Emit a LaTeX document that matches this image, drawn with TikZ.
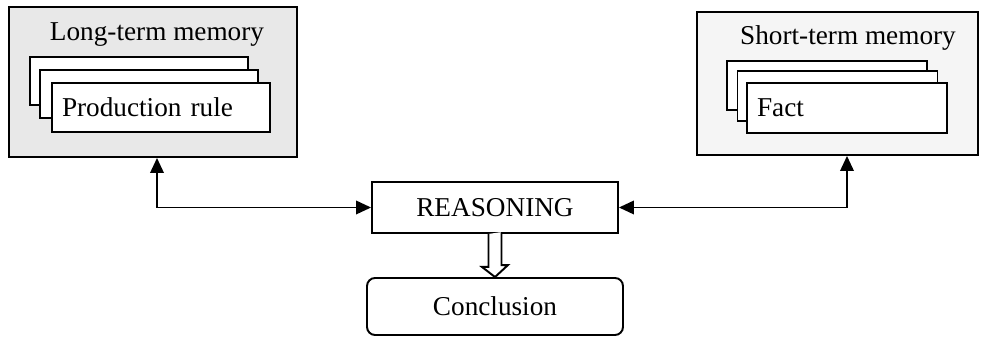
\documentclass[tikz,border=0pt]{standalone}
\usepackage{fontspec}
\setmainfont{Liberation Serif}
\usetikzlibrary{arrows.meta}

\tikzset{
  memory/.style={draw, line width=1.1pt, fill=gray!#1},
  card/.style={draw, line width=1.1pt, fill=white, inner sep=0pt},
  label/.style={font=\fontsize{15.5}{18}\selectfont},
  link/.style={line width=1.1pt, {Triangle[length=0.3cm,width=0.27cm]}-{Triangle[length=0.3cm,width=0.27cm]}}
}

\begin{document}
\begin{tikzpicture}[x=0.02cm, y=-0.02cm]
  \useasboundingbox (0,0) rectangle (991,337);
  % memories
  \node [memory=18, minimum width=5.76cm, minimum height=3.0cm] (ltm) at (153,82) {};
  \node [memory=8, minimum width=5.62cm, minimum height=2.86cm] (stm) at (837.5,83.5) {};
  \node [label] (ltmtitle) at (157,35) {Long-term memory};
  \node [label] (stmtitle) at (848,38) {Short-term memory};
  % stacked cards
  \foreach \n/\cx/\cy in {a/139/81, b/149/94}
    \node [card, minimum width=4.36cm, minimum height=0.97cm] (rule\n) at (\cx,\cy) {};
  \node [card, label, minimum width=4.36cm, minimum height=0.97cm,
         text width=3.96cm, inner xsep=0.2cm, align=left] (rule) at (161,107.5) {Production rule};
  \foreach \n/\cx/\cy in {a/827/85.5, b/837.5/96}
    \node [card, minimum width=4.0cm, minimum height=0.99cm] (fact\n) at (\cx,\cy) {};
  \node [card, label, minimum width=4.0cm, minimum height=0.99cm,
         text width=3.6cm, inner xsep=0.2cm, align=left] (fact) at (847,108) {Fact};
  % reasoning
  \node [draw, line width=1.1pt, label, minimum width=4.92cm, minimum height=1.02cm] (reason) at (495,207.5) {REASONING};
  \node [draw, line width=1.1pt, label, rounded corners=0.16cm, minimum width=5.12cm, minimum height=1.14cm] (concl) at (495,306.5) {Conclusion};
  % connectors
  \draw [link] ([xshift=0.08cm]ltm.south) |- (reason.west);
  \draw [link] (reason.east) -| ([xshift=0.19cm]stm.south);
  \draw [line width=1.1pt, fill=white] ([xshift=-0.13cm]reason.south) -- ++(0,33) -- ++(-6.5,0)
    -- (concl.north) -- ++(13,-12) -- ++(-6.5,0) -- ++(0,-33);
\end{tikzpicture}
\end{document}
